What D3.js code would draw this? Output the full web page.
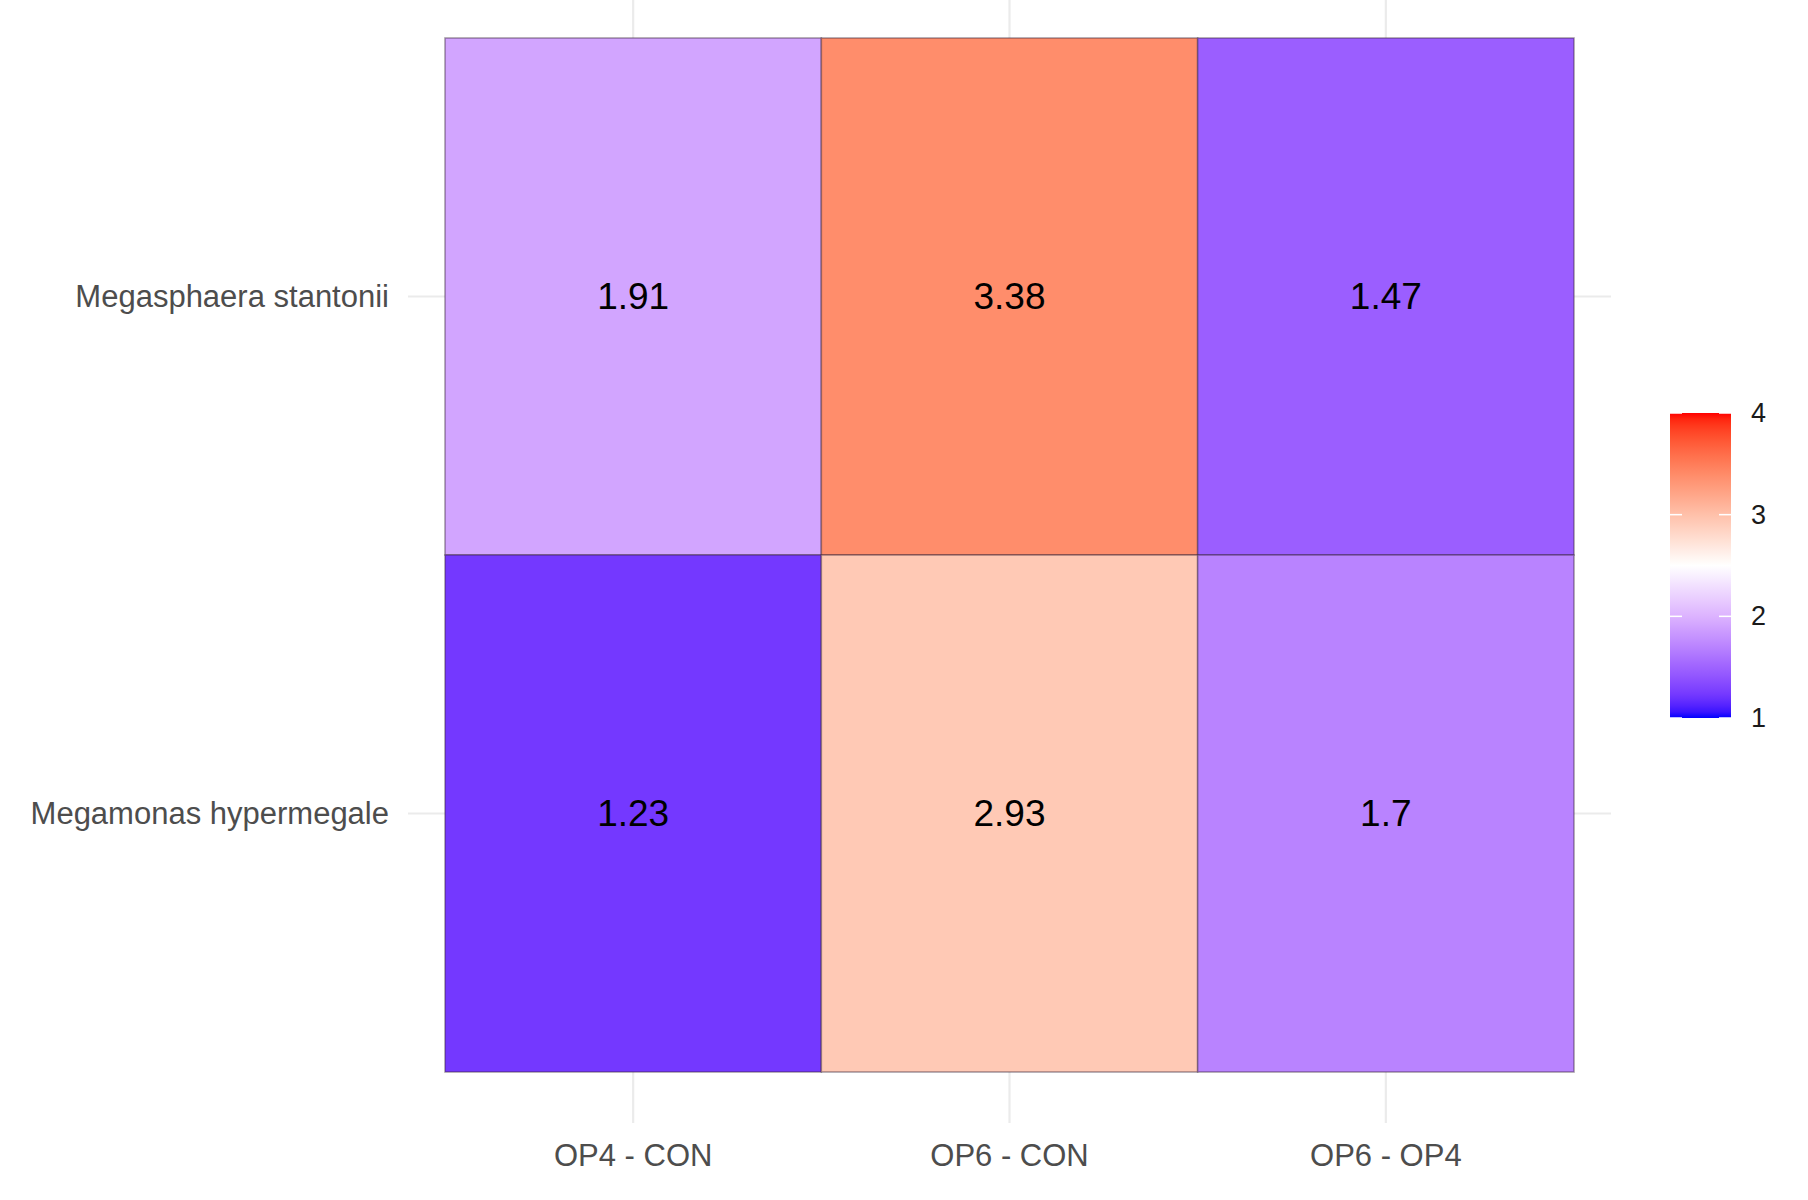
<!DOCTYPE html>
<html><head><meta charset="utf-8">
<script src="https://cdn.jsdelivr.net/npm/d3@7"></script>
<style>html,body{margin:0;padding:0;background:#fff;}svg{display:block;}</style>
</head><body>
<svg id="chart" width="1808" height="1200"></svg>
<script>
const comparisons = ["OP4 - CON", "OP6 - CON", "OP6 - OP4"];
const taxa = ["Megasphaera stantonii", "Megamonas hypermegale"];
const valuesStantonii = [1.91, 3.38, 1.47];
const valuesHypermegale = [1.23, 2.93, 1.7];
const legendTicks = [1, 2, 3, 4];
const colorDomain = [1, 1.23, 1.5, 2, 2.5, 4];
const colorRange = ["#0000ff", "#7438ff", "#9f63ff", "#dcb3ff", "#ffffff", "#ff0000"];

const cells = [];
[valuesStantonii, valuesHypermegale].forEach((vals, i) => {
  vals.forEach((v, j) => cells.push({taxon: taxa[i], comp: comparisons[j], value: v}));
});

const svg = d3.select("#chart");
const font = "Liberation Sans, Arial, Helvetica, sans-serif";

const x = d3.scaleBand().domain(comparisons).range([445, 1574]).padding(0);
const y = d3.scaleBand().domain(taxa).range([38, 1072]).padding(0);
const color = d3.scaleLinear().domain(colorDomain).range(colorRange).interpolate(d3.interpolateLab).clamp(true);

// grid lines
const grid = svg.append("g");
comparisons.forEach(c => {
  const cx = x(c) + x.bandwidth() / 2;
  grid.append("line").attr("x1", cx).attr("x2", cx).attr("y1", 0).attr("y2", 1123)
    .attr("stroke", "#ebebeb").attr("stroke-width", 2.2);
});
taxa.forEach(t => {
  const cy = y(t) + y.bandwidth() / 2;
  grid.append("line").attr("x1", 408).attr("x2", 1611).attr("y1", cy).attr("y2", cy)
    .attr("stroke", "#ebebeb").attr("stroke-width", 2.2);
});

// tiles
svg.append("g").selectAll("rect").data(cells).join("rect")
  .attr("x", d => x(d.comp)).attr("y", d => y(d.taxon))
  .attr("width", x.bandwidth()).attr("height", y.bandwidth())
  .attr("fill", d => color(d.value))
  .attr("stroke", "rgba(60,40,60,0.45)").attr("stroke-width", 1.6);

// cell labels
svg.append("g").selectAll("text").data(cells).join("text")
  .attr("x", d => x(d.comp) + x.bandwidth() / 2)
  .attr("y", d => y(d.taxon) + y.bandwidth() / 2)
  .attr("text-anchor", "middle").attr("dominant-baseline", "central")
  .attr("font-family", font).attr("font-size", 37).attr("fill", "#000")
  .text(d => d.value);

// x axis labels
const xAxis = d3.axisBottom(x).tickSize(0).tickPadding(0);
const gx = svg.append("g").attr("transform", "translate(0,1155)").call(xAxis);
gx.select(".domain").remove();
gx.selectAll("text").attr("font-family", font).attr("font-size", 31).attr("fill", "#4d4d4d")
  .attr("dy", null).attr("dominant-baseline", "central");

// y axis labels
const yAxis = d3.axisLeft(y).tickSize(0).tickPadding(0);
const gy = svg.append("g").attr("transform", "translate(389,0)").call(yAxis);
gy.select(".domain").remove();
gy.selectAll("text").attr("font-family", font).attr("font-size", 31).attr("fill", "#4d4d4d")
  .attr("dy", null).attr("dominant-baseline", "central");

// legend
const ly = d3.scaleLinear().domain([1, 4]).range([718, 413]);
const defs = svg.append("defs");
const grad = defs.append("linearGradient").attr("id", "lg").attr("x1", 0).attr("x2", 0).attr("y1", 1).attr("y2", 0);
d3.range(0, 1.0001, 0.02).forEach(t => {
  const v = 1 + 3 * t;
  grad.append("stop").attr("offset", t).attr("stop-color", color(v));
});
const lx0 = 1670, lw = 61;
svg.append("rect").attr("x", lx0).attr("y", ly(4)).attr("width", lw).attr("height", ly(1) - ly(4))
  .attr("fill", "url(#lg)");
const lt = svg.append("g");
legendTicks.forEach(t => {
  lt.append("line").attr("x1", lx0).attr("x2", lx0 + 12).attr("y1", ly(t)).attr("y2", ly(t))
    .attr("stroke", "#fff").attr("stroke-width", 1.5);
  lt.append("line").attr("x1", lx0 + lw - 12).attr("x2", lx0 + lw).attr("y1", ly(t)).attr("y2", ly(t))
    .attr("stroke", "#fff").attr("stroke-width", 1.5);
  lt.append("text").attr("x", 1751).attr("y", ly(t)).attr("dominant-baseline", "central")
    .attr("font-family", font).attr("font-size", 27).attr("fill", "#1a1a1a").text(t);
});
</script>
</body></html>
